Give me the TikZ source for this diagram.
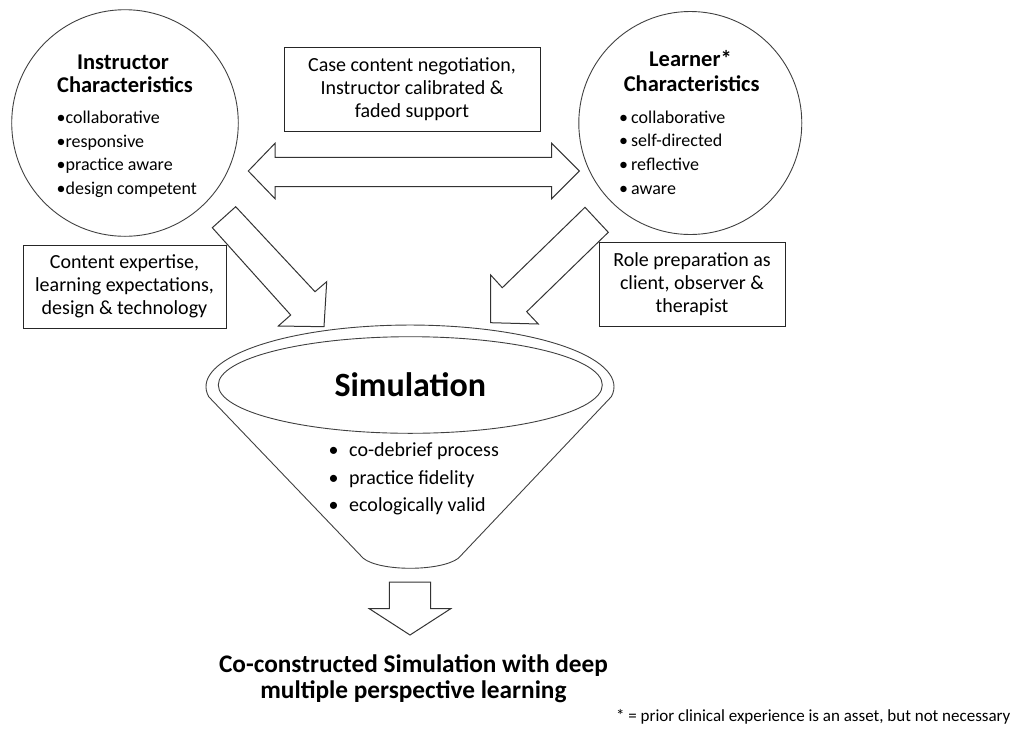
\documentclass[tikz,border=0pt]{standalone}
\usepackage{fontspec}
\setmainfont{Carlito}
\usetikzlibrary{shapes.geometric}
\begin{document}
\begin{tikzpicture}[x=1pt,y=-1pt,
  circ/.style={draw=black!75, circle, line width=0.9pt, inner sep=0pt},
  ttl/.style={inner sep=0pt, anchor=base, font=\bfseries\fontsize{22.5}{23}\selectfont},
  cbul/.style={inner sep=0pt, anchor=base west, font=\fontsize{18}{20}\selectfont},
  fbul/.style={inner sep=0pt, anchor=base west, font=\fontsize{20}{22}\selectfont},
  tbox/.style={draw=black!85, line width=0.9pt, inner sep=0pt, align=center, font=\fontsize{20}{23}\selectfont},
  blk/.style={draw=black!80, line width=1pt, fill=white, line join=miter},
  outp/.style={inner sep=0pt, anchor=base, font=\bfseries\fontsize{25.3}{25}\selectfont}]
\useasboundingbox (0,0) rectangle (1013,729);

% circles
\node[circ, minimum size=226.6pt] (ic) at (125,123) {};
\node[circ, minimum size=223pt] (lc) at (690.3,123) {};

\node[ttl] (ic1) at (123,69) {Instructor};
\node[ttl] (ic2) at (125,92.3) {Characteristics};
\node[cbul] (ib1) at (56.5,123.3) {•collaborative};
\node[cbul] (ib2) at (56.5,147) {•responsive};
\node[cbul] (ib3) at (56.5,170.5) {•practice aware};
\node[cbul] (ib4) at (56.5,194) {•design competent};

\node[ttl] (lc1) at (690.5,66.7) {Learner*};
\node[ttl] (lc2) at (691.7,91.7) {Characteristics};
\node[cbul] (lb1) at (619,123.3) {•\hspace{3pt}collaborative};
\node[cbul] (lb2) at (619,146.7) {•\hspace{3pt}self-directed};
\node[cbul] (lb3) at (619,170.7) {•\hspace{3pt}reflective};
\node[cbul] (lb4) at (619,194) {•\hspace{3pt}aware};

% boxes
\node[tbox, minimum width=256pt, minimum height=84pt] (top) at (412,89)
  {Case content negotiation,\\Instructor calibrated \&\\faded support};
\node[tbox, minimum width=203pt, minimum height=83pt] (lbox) at (124.5,286.5)
  {Content expertise,\\learning expectations,\\design \& technology};
\node[tbox, minimum width=186pt, minimum height=84pt] (rbox) at (692,284)
  {Role preparation as\\client, observer \&\\therapist};

% double arrow
\draw[blk] (248.3,171) -- (275,143.3) -- (275,157.3) -- (551.7,157.3) -- (551.7,143.3)
  -- (579.3,171) -- (551.7,198.7) -- (551.7,186.7) -- (275,186.7) -- (275,198.7) -- cycle;

% diagonal arrows
\draw[blk] (235.7,206.7) -- (212.3,227.7) -- (290.7,315) -- (278.3,326) -- (324,326.7)
  -- (326.7,281.7) -- (315,291.7) -- cycle;
\draw[blk] (585,207.3) -- (502.3,287.7) -- (490.7,275) -- (490.7,322.7) -- (538.3,324)
  -- (526.7,311.7) -- (608.3,232.3) -- cycle;

% funnel
\draw[draw=black!75, line width=0.9pt] (208.7,396.7)
  arc[start angle=170.7, end angle=369.3, x radius=204, y radius=61.7]
  -- (458.3,558.3) .. controls (440,571.6) and (380,571.6) .. (363.3,558.3) -- cycle;
\node[draw=black!75, ellipse, line width=0.9pt, inner sep=0pt, minimum width=384pt,
  minimum height=96.6pt, font=\bfseries\fontsize{34}{40}\selectfont] (sim) at (410.3,385) {Simulation};

\node[fbul] (s1) at (328.5,456.7) {\makebox[20.5pt][l]{•}co-debrief process};
\node[fbul] (s2) at (328.5,484.5) {\makebox[20.5pt][l]{•}practice fidelity};
\node[fbul] (s3) at (328.5,511.7) {\makebox[20.5pt][l]{•}ecologically valid};

% down arrow
\draw[blk] (389.3,582) -- (430.7,582) -- (430.7,608.7) -- (450.7,608.7) -- (410,635)
  -- (369.3,608.7) -- (389.3,608.7) -- cycle;

% output
\node[outp] (o1) at (413.5,672) {Co-constructed Simulation with deep};
\node[outp] (o2) at (413.5,698.5) {multiple perspective learning};

\node[inner sep=0pt, anchor=base east, font=\fontsize{17}{18}\selectfont] (fn) at (1010.7,721)
  {* = prior clinical experience is an asset, but not necessary};
\end{tikzpicture}
\end{document}
